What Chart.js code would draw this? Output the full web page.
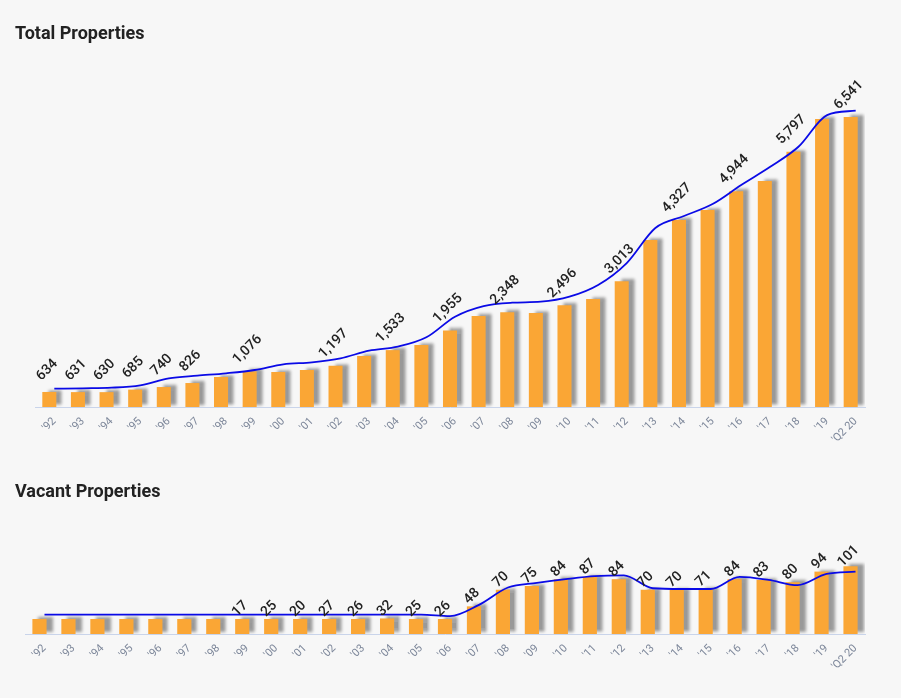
<!DOCTYPE html>
<html>
<head>
<meta charset="utf-8">
<script src="https://cdn.jsdelivr.net/npm/chart.js@4.4.1/dist/chart.umd.min.js"></script>
<style>
  html, body { margin: 0; padding: 0; background: #f7f7f7; }
  body { width: 901px; height: 698px; position: relative; overflow: hidden; font-family: Roboto, "Noto Sans", sans-serif; }
  .title { position: absolute; left: 15px; font-size: 18px; font-weight: 700; color: #222; line-height: 18px; white-space: nowrap; z-index: 2; }
  canvas { position: absolute; left: 0; }
</style>
</head>
<body>
<div class="title" style="top:24px">Total Properties</div>
<div class="title" style="top:482px">Vacant Properties</div>
<canvas id="c1" width="901" height="470" style="top:0"></canvas>
<canvas id="c2" width="901" height="228" style="top:470px"></canvas>
<script>
const categories = ["'92","'93","'94","'95","'96","'97","'98","'99","'00","'01","'02","'03","'04","'05","'06","'07","'08","'09","'10","'11","'12","'13","'14","'15","'16","'17","'18","'19","'Q2 20"];

const totalValues = [634,631,630,685,740,826,956,1076,1063,1106,1197,1407,1533,1643,1955,2266,2348,2331,2496,2632,3013,3899,4327,4544,4944,5167,5797,6498,6541];
const totalLabelFlags = [1,1,1,1,1,1,0,1,0,0,1,0,1,0,1,0,1,0,1,0,1,0,1,0,1,0,1,0,1];
const totalTrend = [704,713,726,777,927,984,1035,1106,1228,1271,1357,1521,1607,1808,2251,2480,2552,2573,2681,2932,3404,4156,4414,4671,5080,5466,5902,6583,6676];

const vacantValues = [12,12,12,12,12,12,12,17,25,20,27,26,32,25,26,48,70,75,84,87,84,70,70,71,84,83,80,94,101];
const vacantLabelFlags = [0,0,0,0,0,0,0,1,1,1,1,1,1,1,1,1,1,1,1,1,1,1,1,1,1,1,1,1,1];
const vacantTrend = [37,37,37,37,37,37,37,37,37,37,37,37,37,37,35,50,73,79,84,88,89,72,71,71,87,83,76,91,94];

const styler = {
  id: 'styler',
  beforeDatasetDraw(chart, args) {
    const ctx = chart.ctx;
    ctx.save();
    if (args.index === 0) {
      ctx.shadowColor = 'rgba(0,0,0,0.38)';
      ctx.shadowBlur = 3;
      ctx.shadowOffsetX = 6;
      ctx.shadowOffsetY = -2;
    } else {
      ctx.translate(5, 0);
    }
  },
  afterDatasetDraw(chart) {
    chart.ctx.restore();
  },
  afterDatasetsDraw(chart, args, opts) {
    const ctx = chart.ctx;
    const meta = chart.getDatasetMeta(0);
    const vals = chart.data.datasets[0].data;
    ctx.save();
    ctx.font = '500 14px Roboto';
    ctx.fillStyle = '#222';
    ctx.textAlign = 'center';
    ctx.textBaseline = 'middle';
    meta.data.forEach((el, i) => {
      if (!opts.flags[i]) return;
      ctx.save();
      ctx.translate(el.x - 2, el.y - opts.lift);
      ctx.rotate(-Math.PI / 4);
      ctx.fillText(vals[i].toLocaleString('en-US'), 0, 0);
      ctx.restore();
    });
    ctx.restore();
  }
};

function makeChart(id, values, trend, flags, lift, ymin, ymax, pad, xh, minBar) {
  return new Chart(document.getElementById(id), {
    type: 'bar',
    data: {
      labels: categories,
      datasets: [
        { type: 'bar', data: values, backgroundColor: '#faa635', borderWidth: 0, base: ymin,
          categoryPercentage: 1, barPercentage: 0.49, minBarLength: minBar, order: 2 },
        { type: 'line', data: trend, borderColor: '#0a0ae6', borderWidth: 1.8,
          pointRadius: 0, tension: 0.4, cubicInterpolationMode: 'monotone', fill: false, order: 1 }
      ]
    },
    options: {
      responsive: false,
      devicePixelRatio: 1,
      animation: false,
      layout: { padding: pad },
      plugins: { legend: { display: false }, tooltip: { enabled: false },
                 styler: { flags: flags, lift: lift } },
      scales: {
        x: {
          grid: { display: false, drawTicks: false },
          border: { display: true, color: '#c9d4ea', width: 1 },
          ticks: { color: '#7d879a', font: { family: 'Roboto', size: 11 }, minRotation: 45, maxRotation: 45, padding: 8, labelOffset: 5, autoSkip: false },
          afterFit(scale) { scale.height = xh; }
        },
        y: { display: false, min: ymin, max: ymax }
      }
    },
    plugins: [styler]
  });
}

makeChart('c1', totalValues, totalTrend, totalLabelFlags, 22, 311, 7551,
  { left: 35, right: 36, top: 70, bottom: 0 }, 63, 0);
makeChart('c2', vacantValues, vacantTrend, vacantLabelFlags, 10, 11.4, 175.6,
  { left: 25, right: 36, top: 40, bottom: 0 }, 64, 15);
</script>
</body>
</html>
